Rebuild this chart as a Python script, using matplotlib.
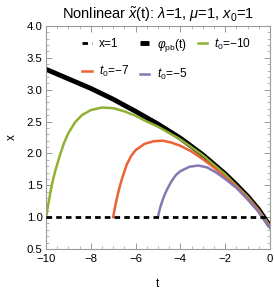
import matplotlib
matplotlib.use("Agg")
import matplotlib.pyplot as plt
from matplotlib.ticker import MultipleLocator, FuncFormatter

plt.rcParams['font.family'] = ['Liberation Sans', 'DejaVu Sans']
plt.rcParams['mathtext.fontset'] = 'custom'
plt.rcParams['mathtext.it'] = 'Liberation Sans:italic'
plt.rcParams['mathtext.rm'] = 'Liberation Sans'

# data
base_t = [-10, 0]
base_x = [1.0, 1.0]

pb_t = [-10, -9, -8, -7, -6, -5, -4, -3, -2, -1.5, -1, -0.5, 0]
pb_x = [3.32, 3.17, 3.02, 2.85, 2.66, 2.46, 2.24, 1.98, 1.68, 1.51, 1.33, 1.12, 0.86]

g_t = [-10, -9.95, -9.9, -9.8, -9.7, -9.6, -9.4, -9.2, -9.0, -8.7, -8.4, -8.0, -7.5, -7.0, -6.5, -6.0, -5.5, -5.0, -4.0, -3.0, -2.0, -1.0, -0.5, 0]
g_x = [1.0, 1.1, 1.2, 1.4, 1.57, 1.71, 1.95, 2.16, 2.32, 2.49, 2.6, 2.68, 2.72, 2.71, 2.66, 2.59, 2.5, 2.42, 2.22, 1.97, 1.67, 1.32, 1.11, 0.86]

r_t = [-7, -6.95, -6.9, -6.8, -6.7, -6.6, -6.4, -6.2, -6.0, -5.6, -5.2, -4.8, -4.4, -4.0, -3.5, -3.0, -2.5, -2.0, -1.5, -1.0, -0.5, 0]
r_x = [1.0, 1.1, 1.19, 1.35, 1.49, 1.61, 1.82, 1.96, 2.05, 2.15, 2.19, 2.2, 2.17, 2.12, 2.03, 1.91, 1.78, 1.63, 1.48, 1.3, 1.1, 0.85]

p_t = [-5, -4.95, -4.9, -4.8, -4.7, -4.6, -4.4, -4.2, -4.0, -3.6, -3.2, -2.8, -2.4, -2.0, -1.5, -1.0, -0.5, 0]
p_x = [1.0, 1.08, 1.15, 1.26, 1.35, 1.43, 1.56, 1.66, 1.72, 1.79, 1.81, 1.78, 1.7, 1.6, 1.46, 1.28, 1.08, 0.83]

fig = plt.figure(figsize=(2.74, 2.95), dpi=100)
ax = fig.add_axes([0.168, 0.156, 0.817, 0.756])

h_base, = ax.plot(base_t, base_x, color='black', lw=2, ls=(0, (2, 1.5)), label='x=1', zorder=5)
h_pb, = ax.plot(pb_t, pb_x, color='black', lw=3.5, label=r'$\varphi_{\mathrm{pb}}$(t)', solid_capstyle='butt')
h_g, = ax.plot(g_t, g_x, color='#8FB032', lw=1.8, label=r'$t_0$=−10')
h_r, = ax.plot(r_t, r_x, color='#EB6235', lw=1.8, label=r'$t_0$=−7')
h_p, = ax.plot(p_t, p_x, color='#8778B3', lw=1.8, label=r'$t_0$=−5')

ax.set_xlim(-10, 0)
ax.set_ylim(0.5, 4.0)
ax.xaxis.set_major_locator(MultipleLocator(2))
ax.xaxis.set_minor_locator(MultipleLocator(0.5))
ax.yaxis.set_major_locator(MultipleLocator(0.5))
ax.yaxis.set_minor_locator(MultipleLocator(0.1))
ax.xaxis.set_major_formatter(FuncFormatter(lambda v, p: f"{v:g}".replace('-', '−')))
ax.yaxis.set_major_formatter(FuncFormatter(lambda v, p: f"{v:.1f}"))

for s in ax.spines.values():
    s.set_color('#9a9a9a')
    s.set_linewidth(0.8)
ax.tick_params(which='both', direction='in', top=True, right=True, color='#9a9a9a', labelsize=8.2, pad=2)
ax.tick_params(axis='x', pad=3.5)
ax.tick_params(axis='y', pad=2.5)
ax.tick_params(which='major', length=4, width=0.7)
ax.tick_params(which='minor', length=2, width=0.5)

ax.set_xlabel('t', fontsize=8.5, labelpad=10)
ax.set_ylabel('x', fontsize=8.5, labelpad=6)
ax.set_title(r'Nonlinear $\tilde{x}$(t): $\lambda$=1, $\mu$=1, $x_0$=1', fontsize=10.5, pad=5)

handles = [h_base, h_r, h_pb, h_p, h_g]
leg = ax.legend(handles=handles, labels=[h.get_label() for h in handles], ncol=3,
                loc='upper left', bbox_to_anchor=(0.13, 0.985), frameon=False, fontsize=8.6,
                handlelength=0.8, handletextpad=0.6, columnspacing=0.9, labelspacing=1.15, borderaxespad=0.2)

fig.savefig('out.png', dpi=100)
